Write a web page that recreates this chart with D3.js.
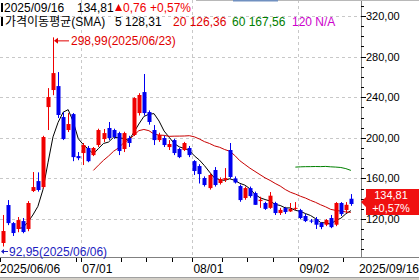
<!DOCTYPE html>
<html>
<head>
<meta charset="utf-8">
<script src="https://cdn.jsdelivr.net/npm/d3@7"></script>
<style>
  body { margin: 0; background: #fff; }
  svg { display: block; font-family: "Liberation Sans", "Noto Sans CJK KR", sans-serif; }
</style>
</head>
<body>
<div id="main"></div>
<script>
// trading days shown (2025)
const dates = [
  "06/06","06/09","06/10","06/11","06/12","06/13","06/16","06/17","06/18","06/20",
  "06/23","06/24","06/25","06/26","06/27","06/30","07/01","07/02","07/03","07/07",
  "07/08","07/09","07/10","07/11","07/14","07/15","07/16","07/17","07/18","07/21",
  "07/22","07/23","07/24","07/25","07/28","07/29","07/30","07/31","08/01","08/04",
  "08/05","08/06","08/07","08/08","08/11","08/12","08/13","08/14","08/15","08/18",
  "08/19","08/20","08/21","08/22","08/25","08/26","08/27","08/28","08/29","09/02",
  "09/03","09/04","09/05","09/08","09/09","09/10","09/11","09/12","09/15","09/16"
];
const open = [
  96.4,133.8,116,110.2,118,110.2,147.6,157.4,151.5,230.3,
  247.1,251,220.5,207.7,223.4,182,185,190,183,192.9,
  198.8,209.7,207.7,204.7,189,199.8,202.8,224.4,245.1,225.4,
  207.7,197.8,199.8,190.9,197.8,189,188,190,177.1,172.2,
  160.4,150.5,168.3,155.5,158.5,188,160,152.5,140.7,150.5,
  145.6,137.7,135.8,131,135.8,125.9,130.8,127.5,130,128.8,
  123,118.5,120,116.1,114.4,121,114.4,135.8,128.8,140
];
const high = [
  124,138.7,117,122,121,137.7,166.3,166,202,249,
  298.99,264.8,225.4,224.4,224.4,186,194.9,192,191,209,
  208.7,215.6,209,206,206,202,240,244,262.9,227,
  212.6,205,202,197.8,199,190,196,192,178,174,
  162,165,171.2,161,170.2,194.9,162,154,152,152,
  147,142,137,146.6,137,131,132,135.8,136.7,130,
  125,120,122,117,120,124,136.7,136.7,136.7,144.6
];
const low = [
  92.95,114,103.3,107,106,108,146.6,147,150,207.7,
  242,219.5,197.8,205.7,177,178,173.2,176,182,191,
  195.9,197.8,199,183,186,191,201.8,222,222,213,
  192.9,196,191,188,183,180,187,181,163.4,155,
  152,149,152,154,156.5,160,155,137,139,141,
  134,131,129,130,124,124,125,127,128.8,120,
  117,116,110.2,110,113,111,113,123,126,133
];
const close = [
  108.2,116,106.2,119,107.2,135.8,151.5,148.6,200.8,240.2,
  263.8,222.5,198.8,213.6,181,180,192.9,177,190,207.7,
  204.7,199.8,200.8,187,204.7,194.9,239.2,242.2,224.4,215.6,
  197.8,202.8,192.9,193.9,185,181,194.9,183,167.3,164.3,
  153.5,163.4,153.5,159.4,160.4,161.4,156,138.7,150.5,142.6,
  134,139,130,143,125.9,129,126.9,130,131,121,
  118,117.5,114.4,112.1,119,112,135.8,124.9,134.05,134.81
];
// close of the session before the first visible day (off screen, estimated)
const prevClose = 105;

const maPeriods = [5, 20, 60];
const maColors = ["#000000", "#c80000", "#008000"];

const yTicks = [120, 160, 200, 240, 280, 320];
const xLabelIdx = [16, 38, 59];
const xTickIdx = [0, 15, 16, 24, 29, 34, 38, 44, 49, 54, 59, 68];

const W = 419, H = 280;
const plotR = 361, plotB = 257;

const svg = d3.select("#main").append("svg").attr("width", W).attr("height", H);

const x = d3.scaleLinear().domain([-0.5, 71]).range([0, plotR]);
const y = d3.scaleLinear().domain([82.6, 335.8]).range([plotB, 0]);
const slot = x(1) - x(0);

svg.append("defs").append("clipPath").attr("id", "plot")
  .append("rect").attr("x", 0).attr("y", 0).attr("width", plotR).attr("height", plotB);

// grid
const grid = svg.append("g").attr("stroke", "#c8c8c8").attr("stroke-dasharray", "3,3");
grid.selectAll("line.h").data(yTicks).join("line")
  .attr("x1", 0).attr("x2", plotR)
  .attr("y1", d => Math.round(y(d)) + 0.5).attr("y2", d => Math.round(y(d)) + 0.5);
grid.selectAll("line.v").data(xLabelIdx).join("line")
  .attr("y1", 0).attr("y2", plotB)
  .attr("x1", d => Math.round(x(d) - slot / 2) + 0.5)
  .attr("x2", d => Math.round(x(d) - slot / 2) + 0.5);

// moving averages (computed from the closes)
const allClose = [prevClose].concat(close);
const plot = svg.append("g").attr("clip-path", "url(#plot)");
maPeriods.forEach((n, k) => {
  const pts = [];
  close.forEach((c, i) => {
    const j = i + 1;
    if (j + 1 >= n) pts.push([i, d3.mean(allClose.slice(j + 1 - n, j + 1))]);
  });
  plot.append("path")
    .datum(pts)
    .attr("fill", "none")
    .attr("stroke", maColors[k])
    .attr("stroke-width", 1)
    .attr("d", d3.line().x(d => x(d[0])).y(d => y(d[1])));
});

// candles
const candles = plot.selectAll("g.c").data(d3.range(close.length)).join("g")
  .attr("fill", i => close[i] >= open[i] ? "#f00000" : "#0000f0")
  .attr("stroke", i => close[i] >= open[i] ? "#f00000" : "#0000f0");
candles.append("line")
  .attr("x1", i => Math.round(x(i)) + 0.5).attr("x2", i => Math.round(x(i)) + 0.5)
  .attr("y1", i => y(high[i])).attr("y2", i => y(low[i]));
candles.append("rect")
  .attr("stroke", "none")
  .attr("x", i => Math.round(x(i)) - 1.5)
  .attr("width", 4)
  .attr("y", i => y(Math.max(open[i], close[i])))
  .attr("height", i => Math.max(1, Math.abs(y(open[i]) - y(close[i]))));

// frame
svg.append("line").attr("x1", plotR + 0.5).attr("x2", plotR + 0.5).attr("y1", 0).attr("y2", plotB)
  .attr("stroke", "#808080");
svg.append("line").attr("x1", 0).attr("x2", W).attr("y1", plotB + 0.5).attr("y2", plotB + 0.5)
  .attr("stroke", "#808080");
svg.append("rect").attr("x", 0).attr("y", 277).attr("width", W).attr("height", 3).attr("fill", "#d4d0c8");
svg.append("line").attr("x1", 0).attr("x2", W).attr("y1", 277.5).attr("y2", 277.5).attr("stroke", "#a0a0a0");
svg.append("line").attr("x1", 196).attr("x2", W).attr("y1", 0.5).attr("y2", 0.5).attr("stroke", "#b8b8b8");
svg.append("rect").attr("x", 233).attr("y", 0).attr("width", 45).attr("height", 1.5).attr("fill", "#7090c0");

// y axis
const yAxis = svg.append("g").attr("font-size", 11).attr("fill", "#000");
yAxis.selectAll("line").data(d3.range(90, 331, 10)).join("line")
  .attr("x1", plotR).attr("x2", d => plotR + (d % 40 === 0 ? 5 : 3))
  .attr("y1", d => Math.round(y(d)) + 0.5).attr("y2", d => Math.round(y(d)) + 0.5)
  .attr("stroke", "#000");
yAxis.selectAll("text").data(yTicks).join("text")
  .attr("x", plotR + 5).attr("y", d => y(d) + 4)
  .text(d => d3.format(".2f")(d).replace(".", ","));

// x axis
const xAxis = svg.append("g").attr("font-size", 12).attr("fill", "#000");
xAxis.selectAll("line").data(xTickIdx).join("line")
  .attr("x1", d => Math.round(x(d) - slot / 2) + 0.5).attr("x2", d => Math.round(x(d) - slot / 2) + 0.5)
  .attr("y1", plotB + 1).attr("y2", plotB + 5).attr("stroke", "#000");
xAxis.append("text").attr("x", 0).attr("y", 273).text("2025/" + dates[0]);
xAxis.selectAll("text.m").data(xLabelIdx).join("text")
  .attr("x", d => x(d) - 1).attr("y", 273).text(d => dates[d]);
xAxis.append("text").attr("x", W).attr("y", 273).attr("text-anchor", "end")
  .text("2025/" + dates[dates.length - 1]);

// last price tag
const last = close.length - 1;
const chg = close[last] - close[last - 1];
const fmt = v => d3.format(".2f")(v).replace(".", ",");
svg.append("path")
  .attr("d", "M419,189 L366,189 L366,197 L361,202 L366,207 L366,215 L419,215 Z")
  .attr("fill", "#f01010");
svg.append("text").attr("x", 391).attr("y", 199).attr("text-anchor", "middle")
  .attr("font-size", 11).attr("fill", "#fff").text(fmt(close[last]));
svg.append("text").attr("x", 391).attr("y", 212).attr("text-anchor", "middle")
  .attr("font-size", 11).attr("fill", "#fff")
  .text("+" + fmt(chg / close[last - 1] * 100) + "%");

// max / min markers
const iMax = d3.maxIndex(high), iMin = d3.minIndex(low);
const mx = Math.round(x(iMax)) + 1, my = y(high[iMax]) + 3;
svg.append("line").attr("x1", mx + 2).attr("x2", mx + 15).attr("y1", my + 0.5).attr("y2", my + 0.5)
  .attr("stroke", "#e00000");
svg.append("path").attr("d", `M${mx},${my + 0.5} l4,-3 v6 Z`).attr("fill", "#e00000");
svg.append("text").attr("x", mx + 17).attr("y", my + 5).attr("font-size", 12).attr("fill", "#e00000")
  .text(fmt(high[iMax]) + "(2025/" + dates[iMax] + ")");
const nx = 1, ny = 251;
svg.append("line").attr("x1", nx + 2).attr("x2", nx + 7).attr("y1", ny + 0.5).attr("y2", ny + 0.5)
  .attr("stroke", "#1c1cc0");
svg.append("path").attr("d", `M${nx},${ny + 0.5} l3,-2.5 v5 Z`).attr("fill", "#1c1cc0");
svg.append("text").attr("x", nx + 8).attr("y", ny + 4.5).attr("font-size", 12).attr("fill", "#1c1cc0")
  .text(fmt(low[iMin]) + "(2025/" + dates[iMin] + ")");

// header
const head = svg.append("g").attr("font-size", 12);
head.append("rect").attr("x", 1).attr("y", 3).attr("width", 2).attr("height", 9).attr("fill", "#000");
head.append("text").attr("x", 4).attr("y", 12).text("2025/" + dates[last]);
head.append("text").attr("x", 77).attr("y", 12).text(fmt(close[last]));
head.append("path").attr("d", "M115,11 L118.5,4 L122,11 Z").attr("fill", "#f00000");
head.append("text").attr("x", 123).attr("y", 12).attr("fill", "#f00000").text(fmt(chg));
head.append("text").attr("x", 150).attr("y", 12).attr("fill", "#f00000")
  .text("+" + fmt(chg / close[last - 1] * 100) + "%");
head.append("rect").attr("x", 1).attr("y", 17).attr("width", 2).attr("height", 9).attr("fill", "#000");
head.append("text").attr("x", 5).attr("y", 26).text("가격이동평균(SMA)");
head.append("text").attr("x", 115).attr("y", 26).text("5 128,31");
head.append("text").attr("x", 173).attr("y", 26).attr("fill", "#e00000").text("20 126,36");
head.append("text").attr("x", 232).attr("y", 26).attr("fill", "#008000").text("60 167,56");
head.append("text").attr("x", 292).attr("y", 26).attr("fill", "#cc00cc").text("120 N/A");
</script>
</body>
</html>
